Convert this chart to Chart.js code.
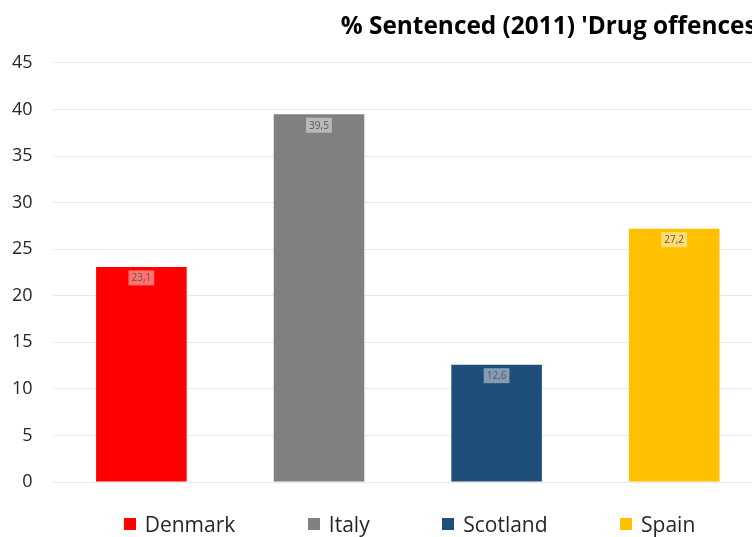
<!DOCTYPE html>
<html>
<head>
<meta charset="utf-8">
<script src="https://cdn.jsdelivr.net/npm/chart.js@4/dist/chart.umd.min.js"></script>
<style>
  html, body { margin: 0; padding: 0; background: #fff; overflow: hidden; }
  #wrap { position: relative; width: 800px; height: 537px; }
  #legend {
    position: absolute; left: 0; top: 510px; width: 819px;
    display: flex; justify-content: center; gap: 72.5px;
    font-family: "Open Sans", sans-serif; font-size: 21px; color: #262626;
  }
  #legend .item { display: flex; align-items: center; white-space: nowrap; }
  #legend .box { width: 12px; height: 12px; margin-right: 9px; }
</style>
</head>
<body>
<div id="wrap">
  <canvas id="chart" width="800" height="537"></canvas>
  <div id="legend"></div>
</div>
<script>
  // données
  const countries = ['Denmark', 'Italy', 'Scotland', 'Spain'];
  const sentenced = [23.1, 39.5, 12.6, 27.2];
  const barColors = ['#FF0000', '#808080', '#1F4E79', '#FFC000'];
  const yTicks = [0, 5, 10, 15, 20, 25, 30, 35, 40, 45];

  // étiquettes de valeur dans les barres
  const valueLabels = {
    id: 'valueLabels',
    afterDatasetsDraw(chart) {
      const ctx = chart.ctx;
      const meta = chart.getDatasetMeta(0);
      ctx.save();
      ctx.font = '10px "Open Sans"';
      ctx.textAlign = 'center';
      ctx.textBaseline = 'middle';
      meta.data.forEach((bar, i) => {
        const txt = sentenced[i].toFixed(1).replace('.', ',');
        const w = ctx.measureText(txt).width + 6;
        const h = 15;
        const cy = bar.y + 11;
        ctx.fillStyle = 'rgba(255,255,255,0.45)';
        ctx.fillRect(bar.x - w / 2, cy - h / 2, w, h);
        ctx.fillStyle = '#595959';
        ctx.fillText(txt, bar.x, cy + 0.5);
      });
      ctx.restore();
    }
  };

  const ctx = document.getElementById('chart').getContext('2d');
  new Chart(ctx, {
    type: 'bar',
    data: {
      labels: countries,
      datasets: [{
        data: sentenced,
        backgroundColor: barColors,
        barPercentage: 0.51,
        categoryPercentage: 1
      }]
    },
    options: {
      responsive: false,
      animation: false,
      layout: { padding: { left: -8, right: 37, top: 0, bottom: 55 } },
      plugins: {
        legend: { display: false },
        tooltip: { enabled: false },
        title: {
          display: true,
          text: "% Sentenced (2011) 'Drug offences'",
          align: 'end',
          fullSize: false,
          color: '#000',
          font: { family: 'Open Sans', size: 24.4, weight: 'bold' },
          padding: { top: 12, bottom: 21.7 }
        }
      },
      scales: {
        x: { display: false },
        y: {
          min: 0,
          max: 45,
          afterBuildTicks: axis => { axis.ticks = yTicks.map(v => ({ value: v })); },
          border: { display: false },
          grid: { color: '#e4e7ec', drawTicks: false },
          ticks: {
            padding: 20,
            color: '#262626',
            font: { family: 'Open Sans', size: 18 }
          }
        }
      }
    },
    plugins: [valueLabels]
  });

  // légende
  const legend = document.getElementById('legend');
  countries.forEach((name, i) => {
    const item = document.createElement('div');
    item.className = 'item';
    const box = document.createElement('span');
    box.className = 'box';
    box.style.background = barColors[i];
    const label = document.createElement('span');
    label.innerText = name;
    item.appendChild(box);
    item.appendChild(label);
    legend.appendChild(item);
  });
</script>
</body>
</html>
